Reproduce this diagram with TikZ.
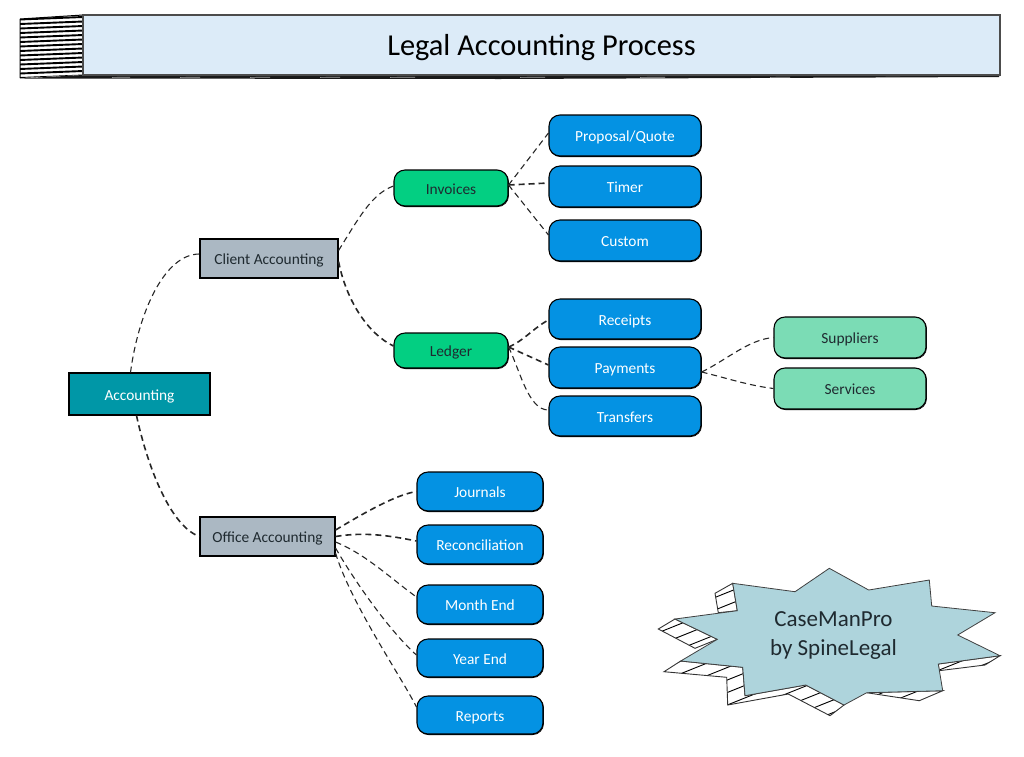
\documentclass[tikz,border=0pt]{standalone}
\usepackage{fontspec}
\setmainfont{Carlito}
\usetikzlibrary{calc}
\definecolor{titlefill}{HTML}{DCEBF8}
\definecolor{bluebox}{HTML}{0492E3}
\definecolor{greenbox}{HTML}{03CF82}
\definecolor{tealbox}{HTML}{0097A7}
\definecolor{greybox}{HTML}{ABB8C3}
\definecolor{mintbox}{HTML}{7BDCB5}
\definecolor{starfill}{HTML}{AED4DC}
\definecolor{ink}{HTML}{1F2A30}
\tikzset{
  boxbase/.style={draw=black,line width=1.1pt,minimum height=#1,inner sep=0pt,anchor=center,text height=12pt,text depth=0pt,
    preaction={draw=black,line width=0.8pt,transform canvas={shift={(0.5pt,-0.6pt)}}},
    font=\fontsize{15.4}{17}\selectfont},
  rect/.style n args={3}{boxbase=#2,rectangle,minimum width=#1,fill=#3},
  round/.style n args={3}{boxbase=#2,rectangle,rounded corners=11pt,minimum width=#1,fill=#3},
  conn/.style={draw=black!85,line width=1.1pt,dash pattern=on 6pt off 4pt},
  connb/.style={conn,line width=1.6pt},
  hatchline/.style={draw=black,line width=0.9pt},
  outline/.style={draw=black!80,line width=0.9pt},
}
\newcommand{\shadeA}{(732.7,583.3) -- (715,593.3) -- (718.3,612.7) -- (737.3,610.7) -- cycle}
\newcommand{\shadeB}{(675,619) -- (658.3,629) -- (695,648.3) -- (717.3,639.3) -- cycle}
\newcommand{\shadeC}{(680.7,661) -- (664,671.7) -- (726.7,677.3) -- (727.7,705) -- (788.3,694) -- (830,715.7) -- (844,705) -- (805.7,685) -- (745,695.7) -- (742.7,667.3) -- cycle}
\newcommand{\shadeD}{(866.7,692.7) -- (919.3,700.7) -- (942.7,690.7) -- cycle}
\newcommand{\shadeE}{(938.3,664) -- (939,670.7) -- (985,665) -- (1000,655.7) -- cycle}
\begin{document}
\begin{tikzpicture}[x=1pt,y=-1pt]
\useasboundingbox (0,0) rectangle (1024,756);
% title banner
\begin{scope}
  \clip (20,19) -- (83,15) -- (83,75) -- (20,78) -- cycle;
  \foreach \k in {0,...,13} {
    \draw[line width=1.9pt] (20,{19.5+4.5*\k}) -- (83,{17+4.5*\k});
  }
\end{scope}
\draw[line width=1pt] (20,19) -- (83,15) (20,19) -- (20,78);
\fill[black!90] (20,78.5) -- (83,75) -- (1000,73.5) -- (999,77) -- (500,79) -- cycle;
\foreach \a/\b in {112/130,180/200,250/270,320/340,390/415,520/545,640/665,770/790,880/900} {
  \draw[black!35,line width=0.7pt] (\a,77.4) -- (\b,77.2);
}
\node[boxbase=60pt,rectangle,minimum width=917pt,fill=titlefill,draw=black!70,text=black,text height=20pt,font=\fontsize{30.4}{34}\selectfont] (title) at (541.5,45) {Legal Accounting Process};
% main boxes
\node[rect={141pt}{42pt}{tealbox},text=white] (acc) at (139.5,394) {Accounting};
\node[rect={138pt}{39pt}{greybox},text=ink] (client) at (269,258.5) {Client Accounting};
\node[rect={135pt}{39pt}{greybox},text=ink] (office) at (267.5,536.5) {Office Accounting};
\node[round={114pt}{36pt}{greenbox},text=ink] (inv) at (451,188) {Invoices};
\node[round={114pt}{35pt}{greenbox},text=ink] (led) at (451,350.5) {Ledger};
\node[round={152pt}{41pt}{bluebox},text=white] (prop) at (625,135.5) {Proposal/Quote};
\node[round={152pt}{41pt}{bluebox},text=white] (timer) at (625,186.5) {Timer};
\node[round={152pt}{41pt}{bluebox},text=white] (custom) at (625,240.5) {Custom};
\node[round={152pt}{40pt}{bluebox},text=white] (rec) at (625,319) {Receipts};
\node[round={152pt}{41pt}{bluebox},text=white] (pay) at (625,367.5) {Payments};
\node[round={152pt}{40pt}{bluebox},text=white] (trans) at (625,416) {Transfers};
\node[round={152pt}{41pt}{mintbox},text=ink] (supp) at (850,337.5) {Suppliers};
\node[round={152pt}{41pt}{mintbox},text=ink] (serv) at (850,388.5) {Services};
\node[round={126pt}{39pt}{bluebox},text=white] (jour) at (480,491.5) {Journals};
\node[round={126pt}{39pt}{bluebox},text=white] (recon) at (480,544.5) {Reconciliation};
\node[round={126pt}{39pt}{bluebox},text=white] (month) at (480,604.5) {Month End};
\node[round={126pt}{38pt}{bluebox},text=white] (year) at (480,658) {Year End};
\node[round={126pt}{38pt}{bluebox},text=white] (rep) at (480,715) {Reports};
% connectors
\draw[conn] ([xshift=-9pt]acc.north) .. controls +(8,-60) and +(-35,0) .. ([yshift=4.5pt]client.west);
\draw[connb] ([xshift=-3pt]acc.south) .. controls +(12,55) and +(-28,-10) .. (office.west);
\draw[conn] ([yshift=8pt]client.east) .. controls +(20,-32) and +(-22,8) .. ([yshift=2pt]inv.west);
\draw[connb] ([yshift=-3pt]client.east) .. controls +(8,40) and +(-25,-12) .. ([yshift=4.5pt]led.west);
\draw[conn] ([yshift=3pt]inv.east) -- ([yshift=2.5pt]prop.west);
\draw[connb] ([yshift=3pt]inv.east) -- ([yshift=3.5pt]timer.west);
\draw[conn] ([yshift=3pt]inv.east) -- ([yshift=5.5pt]custom.west);
\draw[connb] ([yshift=3.5pt]led.east) .. controls +(15,-6) and +(-15,8) .. ([yshift=-1pt]rec.west);
\draw[connb] ([yshift=3.5pt]led.east) -- ([yshift=2.5pt]pay.west);
\draw[conn] ([yshift=3.5pt]led.east) .. controls +(12,25) and +(-20,0) .. ([yshift=6pt]trans.west);
\draw[conn] ([yshift=-4.5pt]pay.east) .. controls +(25,-12) and +(-25,2) .. (supp.west);
\draw[conn] ([yshift=-4.5pt]pay.east) .. controls +(25,6) and +(-25,-3) .. (serv.west);
\draw[connb] ([yshift=6.5pt]office.east) .. controls +(30,-18) and +(-20,3) .. (jour.west);
\draw[connb] (office.east) .. controls +(30,-5) and +(-25,-5) .. ([yshift=3.5pt]recon.west);
\draw[conn] ([yshift=-5.5pt]office.east) .. controls +(30,12) and +(-25,-18) .. ([yshift=7.5pt]month.west);
\draw[conn] ([yshift=-11.5pt]office.east) .. controls +(20,35) and +(-25,-22) .. ([yshift=3pt]year.west);
\draw[conn] ([yshift=-16.5pt]office.east) .. controls +(15,50) and +(-15,-30) .. ([yshift=8pt]rep.west);
% badge
\foreach \shade in {\shadeA,\shadeB,\shadeC,\shadeD,\shadeE} {
  \begin{scope}
    \clip \shade;
    \foreach \k in {0,...,32} {
      \draw[hatchline] (640,{590+12.5*\k}) -- (1024,{590+12.5*\k-154});
    }
  \end{scope}
  \draw[outline] \shade;
}
\fill[starfill,draw=black!75,line width=0.8pt] (829.3,568.3) -- (868.7,590) -- (929.3,580) -- (931.7,606) -- (995,612.7) -- (957.7,635) -- (1000,655.7) -- (938.3,664) -- (942.7,690.7) -- (866.7,692.7) -- (844,705) -- (805.7,685) -- (745,695.7) -- (742.7,667.3) -- (680.7,661) -- (717.3,639.3) -- (675,619) -- (737.3,610.7) -- (732.7,583.3) -- (795,591.7) -- cycle;
\node[inner sep=0pt,align=center,text=ink,font=\fontsize{23}{29}\selectfont] (badge) at (833.5,635) {CaseManPro\\by SpineLegal};
\end{tikzpicture}
\end{document}
